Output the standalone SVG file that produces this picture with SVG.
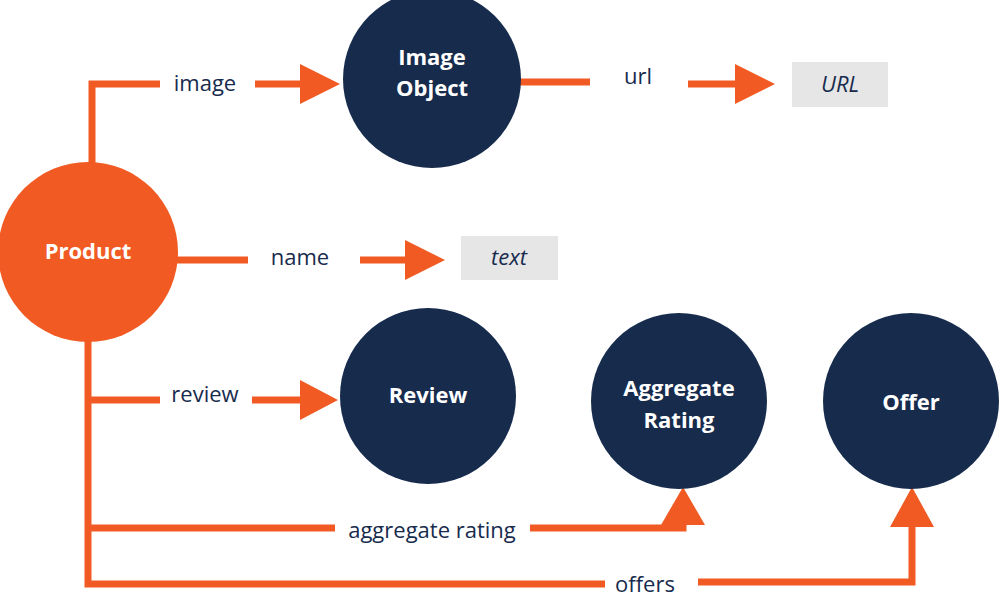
<svg xmlns="http://www.w3.org/2000/svg" width="1000" height="599" viewBox="0 0 1000 599">
<style>
.ln{stroke:#F15A22;stroke-width:7;fill:none}
.ah{fill:#F15A22}
.nav{fill:#172B4D}
.nt{font-family:"Open Sans",sans-serif;font-weight:bold;font-size:22px;fill:#fff;text-anchor:middle}
.lb{font-family:"Open Sans",sans-serif;font-size:22px;fill:#172B4D;text-anchor:middle}
.box{fill:#E6E6E6}
.bt{font-family:"Open Sans",sans-serif;font-style:italic;font-size:22px;fill:#172B4D;text-anchor:middle}
</style>
<rect width="1000" height="599" fill="#fff"/>
<g id="connectors">
<path class="ln" d="M92 170 V84 H160"/>
<path class="ln" d="M255 84 H305"/>
<polygon class="ah" points="300,64 340,84 300,104"/>
<text class="lb" x="205" y="91">image</text>
<path class="ln" d="M515 82 H590"/>
<text class="lb" x="638" y="84">url</text>
<path class="ln" d="M688 84 H740"/>
<polygon class="ah" points="735,64 775,84 735,104"/>
<path class="ln" d="M175 260 H248"/>
<text class="lb" x="300" y="265">name</text>
<path class="ln" d="M360 260 H410"/>
<polygon class="ah" points="405,240 445,260 405,280"/>
<path class="ln" d="M88 340 V584 H605"/>
<path class="ln" d="M88 400 H160"/>
<text class="lb" x="205" y="402">review</text>
<path class="ln" d="M252 400 H305"/>
<polygon class="ah" points="300,380 338,400 300,420"/>
<path class="ln" d="M88 528 H335"/>
<text class="lb" x="432" y="538">aggregate rating</text>
<path class="ln" d="M530 528 H683 V520"/>
<polygon class="ah" points="661,525 683,487 705,525"/>
<text class="lb" x="645" y="592">offers</text>
<path class="ln" d="M698 582 H912 V522"/>
<polygon class="ah" points="890,527 912,487 934,527"/>
</g>
<g id="product"><circle cx="88" cy="252" r="90" fill="#F15A22"/><text class="nt" x="88" y="259">Product</text></g>
<g id="imageobject"><circle class="nav" cx="432" cy="79" r="89"/><text class="nt" x="432" y="65">Image</text><text class="nt" x="432" y="96">Object</text></g>
<g id="url"><rect class="box" x="792" y="62" width="96" height="45"/><text class="bt" x="840" y="92">URL</text></g>
<g id="text"><rect class="box" x="461" y="236" width="97" height="44"/><text class="bt" x="509" y="265">text</text></g>
<g id="review"><circle class="nav" cx="428" cy="396" r="88"/><text class="nt" x="428" y="403">Review</text></g>
<g id="aggregaterating"><circle class="nav" cx="679" cy="401" r="88"/><text class="nt" x="679" y="396">Aggregate</text><text class="nt" x="679" y="428">Rating</text></g>
<g id="offer"><circle class="nav" cx="911" cy="401" r="88"/><text class="nt" x="911" y="410">Offer</text></g>
</svg>
